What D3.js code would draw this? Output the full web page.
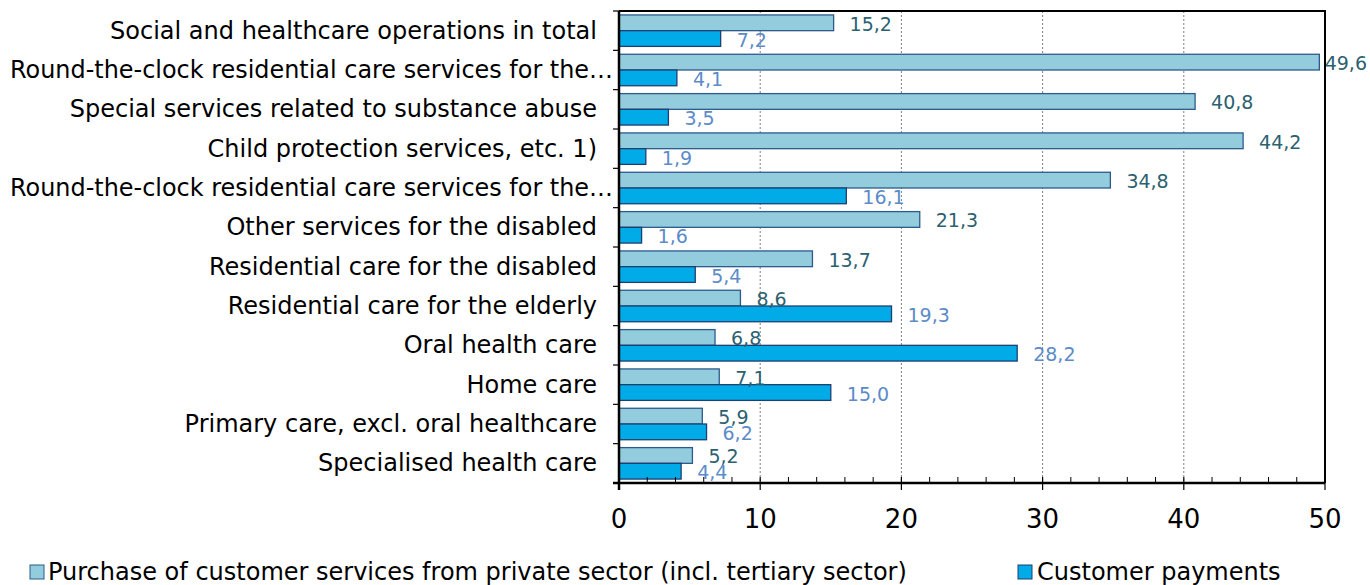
<!DOCTYPE html>
<html>
<head>
<meta charset="utf-8">
<script src="https://cdn.jsdelivr.net/npm/d3@7"></script>
<style>
  html, body { margin: 0; padding: 0; background: #fff; }
  svg { display: block; font-family: "DejaVu Sans", Verdana, sans-serif; }
</style>
</head>
<body>
<svg id="chart" width="1370" height="585"></svg>
<script>
// Service categories, top to bottom
const categories = [
  "Social and healthcare operations in total",
  "Round-the-clock residential care services for the…",
  "Special services related to substance abuse",
  "Child protection services, etc. 1)",
  "Round-the-clock residential care services for the…",
  "Other services for the disabled",
  "Residential care for the disabled",
  "Residential care for the elderly",
  "Oral health care",
  "Home care",
  "Primary care, excl. oral healthcare",
  "Specialised health care"
];
// Purchase of customer services from private sector (%)
const purchaseValues = [15.2, 49.6, 40.8, 44.2, 34.8, 21.3, 13.7, 8.6, 6.8, 7.1, 5.9, 5.2];
// Customer payments (%)
const paymentValues = [7.2, 4.1, 3.5, 1.9, 16.1, 1.6, 5.4, 19.3, 28.2, 15.0, 6.2, 4.4];
const xTicks = [0, 10, 20, 30, 40, 50];
const seriesNames = [
  "Purchase of customer services from private sector (incl. tertiary sector)",
  "Customer payments"
];

const series = [
  { key: "purchase", name: seriesNames[0], values: purchaseValues,
    fill: "#93CDDD", stroke: "#2C5A8C", labelColor: "#2B6170" },
  { key: "payment", name: seriesNames[1], values: paymentValues,
    fill: "#00ABE8", stroke: "#1F3F73", labelColor: "#5B8BC9" }
];

const svg = d3.select("#chart");
const plotL = 619, plotR = 1325, plotT = 11, plotB = 483;

const x = d3.scaleLinear().domain([0, 50]).range([plotL, plotR]);
const rowIds = categories.map((c, i) => i);
const y = d3.scaleBand().domain(rowIds).range([plotT, plotB]).padding(0);
const ySub = d3.scaleBand().domain(series.map(s => s.key))
  .range([0, y.bandwidth()]).paddingInner(0).paddingOuter(0.25);

const fmt = v => d3.format(".1f")(v).replace(".", ",");

// dotted vertical gridlines
svg.append("g")
  .selectAll("line")
  .data(xTicks.filter(t => t > 0 && t < 50))
  .join("line")
  .attr("x1", d => x(d)).attr("x2", d => x(d))
  .attr("y1", plotT).attr("y2", plotB)
  .attr("stroke", "#7f7f7f").attr("stroke-width", 1)
  .attr("stroke-dasharray", "2,2");

// bars
const rows = svg.append("g").selectAll("g")
  .data(rowIds).join("g")
  .attr("transform", d => `translate(0,${y(d)})`);

series.forEach(s => {
  rows.append("rect")
    .attr("x", x(0))
    .attr("y", ySub(s.key))
    .attr("width", i => x(s.values[i]) - x(0))
    .attr("height", ySub.bandwidth())
    .attr("fill", s.fill)
    .attr("stroke", s.stroke)
    .attr("stroke-width", 1.3);
});

// plot frame (top and right edges)
svg.append("path")
  .attr("d", `M${plotL},${plotT}H${plotR}V${plotB}`)
  .attr("fill", "none").attr("stroke", "#000").attr("stroke-width", 2);

// x axis: major ticks below, minor ticks inside
const xAxis = svg.append("g").attr("transform", `translate(0,${plotB})`);
xAxis.append("line").attr("x1", plotL - 6).attr("x2", plotR)
  .attr("stroke", "#000").attr("stroke-width", 2.5);
xAxis.selectAll(".minor")
  .data(d3.range(2, 50, 2).filter(v => v % 10 !== 0))
  .join("line")
  .attr("x1", d => x(d)).attr("x2", d => x(d))
  .attr("y1", 0).attr("y2", -6)
  .attr("stroke", "#000").attr("stroke-width", 1);
xAxis.selectAll(".major")
  .data(xTicks).join("line")
  .attr("x1", d => x(d)).attr("x2", d => x(d))
  .attr("y1", -6).attr("y2", 7)
  .attr("stroke", "#000").attr("stroke-width", 1.2);
xAxis.selectAll("text")
  .data(xTicks).join("text")
  .attr("x", d => x(d)).attr("y", 45)
  .attr("text-anchor", "middle")
  .attr("font-size", 26)
  .attr("fill", "#000")
  .text(d => d);

// y axis with ticks between categories
const yAxis = svg.append("g");
yAxis.append("line").attr("x1", plotL).attr("x2", plotL)
  .attr("y1", plotT).attr("y2", plotB + 7)
  .attr("stroke", "#000").attr("stroke-width", 2.5);
yAxis.selectAll(".tick")
  .data(d3.range(0, categories.length + 1))
  .join("line")
  .attr("x1", plotL - 6).attr("x2", plotL)
  .attr("y1", i => plotT + i * y.step()).attr("y2", i => plotT + i * y.step())
  .attr("stroke", "#000").attr("stroke-width", 1.2);
// truncated names (ending in an ellipsis) run a little further right
yAxis.selectAll("text")
  .data(rowIds).join("text")
  .attr("x", d => categories[d].endsWith("…") ? 613 : 597)
  .attr("y", d => y(d) + y.bandwidth() / 2 + 8)
  .attr("text-anchor", "end")
  .attr("font-size", 24)
  .attr("fill", "#000")
  .text(d => categories[d])
  .each(function () {
    const maxW = 603;
    if (this.getComputedTextLength() > maxW) {
      d3.select(this).attr("textLength", maxW).attr("lengthAdjust", "spacingAndGlyphs");
    }
  });

// value labels
series.forEach(s => {
  rows.append("text")
    .attr("y", ySub(s.key) + ySub.bandwidth() / 2 + 8)
    .attr("font-size", 19)
    .attr("fill", s.labelColor)
    .text(i => fmt(s.values[i]))
    .attr("x", function (i) {
      const w = this.getComputedTextLength();
      return Math.min(x(s.values[i]) + 16, 1367 - w);
    });
});

// legend
const legendItems = [
  { s: series[0], x: 30, tx: 48 },
  { s: series[1], x: 1018, tx: 1037 }
];
const legend = svg.append("g");
legendItems.forEach(item => {
  legend.append("rect")
    .attr("x", item.x).attr("y", 565)
    .attr("width", 14).attr("height", 14)
    .attr("fill", item.s.fill).attr("stroke", item.s.stroke).attr("stroke-width", 1);
  legend.append("text")
    .attr("x", item.tx).attr("y", 580)
    .attr("font-size", 24).attr("fill", "#000")
    .text(item.s.name);
});
</script>
</body>
</html>
